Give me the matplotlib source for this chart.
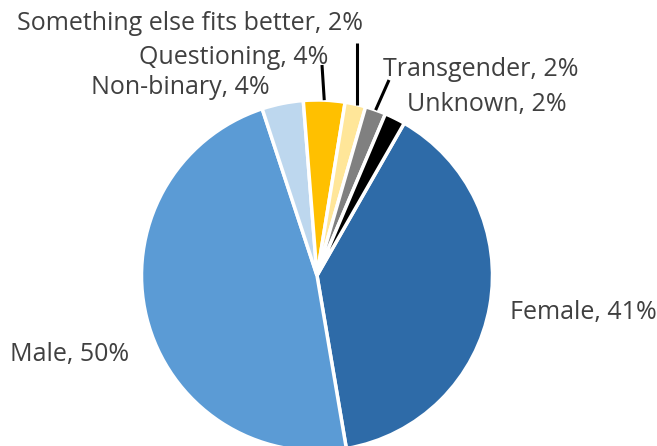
import numpy as np
import matplotlib
matplotlib.use("Agg")
import matplotlib.pyplot as plt

categories = ["Female", "Male", "Non-binary", "Questioning",
              "Something else fits better", "Transgender", "Unknown"]
values = [41, 50, 4, 4, 2, 2, 2]
colors = ["#2E6BA8", "#5B9BD5", "#BDD7EE", "#FFC000", "#FFE699", "#808080", "#000000"]

W, H = 657, 446
cx, cy, R = 317, 275.5, 175.5

def px(x, y):
    """pixel position -> data units (pie radius = 1)"""
    return ((x - cx) / R, (cy - y) / R)

# label positions (pixel centres) and leader-line end points
label_px = {
    "Female": (583, 313),
    "Male": (70, 355),
    "Non-binary": (180, 87),
    "Questioning": (234, 57),
    "Something else fits better": (190, 23),
    "Transgender": (481, 70),
    "Unknown": (487, 105),
}
leader_px = {
    "Questioning": (322, 65),
    "Something else fits better": (357, 43),
    "Transgender": (389, 80),
}

plt.rcParams['font.family'] = ['Open Sans', 'DejaVu Sans']

fig = plt.figure(figsize=(W / 100, H / 100), dpi=100)
ax = fig.add_axes([0, 0, 1, 1])

wedges, _ = ax.pie(values, colors=colors, startangle=60.2, counterclock=False,
                   radius=1.0, wedgeprops=dict(edgecolor="white", linewidth=2.5))

ax.set_xlim(-cx / R, (W - cx) / R)
ax.set_ylim(-(H - cy) / R, cy / R)
ax.set_aspect("auto")
ax.axis("off")

for w, cat, v in zip(wedges, categories, values):
    x, y = px(*label_px[cat])
    ax.text(x, y, f"{cat}, {v}%", ha="center", va="center", fontsize=18,
            color="#404040")
    if cat in leader_px:
        mid = np.deg2rad((w.theta1 + w.theta2) / 2)
        x0, y0 = np.cos(mid), np.sin(mid)
        x1, y1 = px(*leader_px[cat])
        if cat == "Something else fits better":
            x0 = x1
            y0 = np.sqrt(max(0.0, 1 - x1 ** 2))
        ax.plot([x0, x1], [y0, y1], color="black", lw=2.2, solid_capstyle="butt")

fig.savefig("out.png", dpi=100)
